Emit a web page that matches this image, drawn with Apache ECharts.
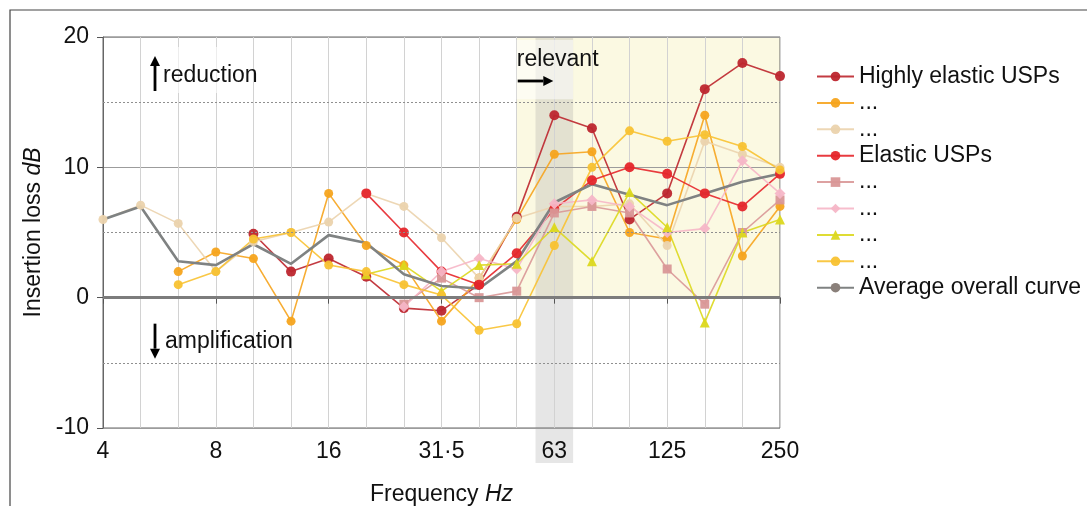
<!DOCTYPE html>
<html><head><meta charset="utf-8">
<script src="https://cdn.jsdelivr.net/npm/echarts@6/dist/echarts.min.js"></script>
<style>html,body{margin:0;padding:0;background:#fff}#c{width:1087px;height:506px}</style>
</head><body><div id="c"></div>
<script>
// ---- data ----
const bands = ['4','5','6.3','8','10','12.5','16','20','25','31.5','40','50','63','80','100','125','160','200','250'];
const tickLabels = ['4','8','16','31·5','63','125','250'];
const yTicks = [-10, 0, 10, 20];
const dashedLevels = [15, 5, -5];
const highlyElastic = [null,null,null,null,4.9,2.0,3.0,1.6,-0.8,-1.0,1.0,6.2,14.0,13.0,6.0,8.0,16.0,18.0,17.0];
const orangeSeries  = [null,null,2.0,3.5,3.0,-1.8,8.0,4.0,2.5,-1.8,1.5,6.0,11.0,11.2,5.0,4.5,14.0,3.2,7.0];
const beigeSeries   = [6.0,7.1,5.7,2.0,4.3,5.0,5.8,8.0,7.0,4.6,1.5,6.1,7.0,7.0,7.2,4.0,12.0,11.0,10.0];
const elastic       = [null,null,null,null,null,null,null,8.0,5.0,2.0,1.0,3.4,6.8,9.0,10.0,9.5,8.0,7.0,9.5];
const squareSeries  = [null,null,null,null,null,null,null,null,-0.5,1.5,0.0,0.5,6.5,7.0,6.5,2.2,-0.5,5.0,7.5];
const pinkSeries    = [null,null,null,null,null,null,null,null,-0.7,2.0,3.0,2.2,7.2,7.5,7.0,5.0,5.3,10.5,8.0];
const triSeries     = [null,null,null,null,null,null,null,1.8,2.5,0.5,2.5,2.6,5.4,2.8,8.1,5.4,-1.9,5.0,6.0];
const goldSeries    = [null,null,1.0,2.0,4.5,5.0,2.5,2.0,1.0,0.2,-2.5,-2.0,4.0,10.0,12.8,12.0,12.5,11.6,9.8];
const average       = [6.0,7.0,2.8,2.5,4.1,2.6,4.8,4.2,1.8,0.9,0.7,2.8,7.3,8.7,7.9,7.1,8.0,8.9,9.5];
const relevantFrom = 11, highlightBand = 12;

const FONT = '"Liberation Sans", Arial, sans-serif';
const FS = 23;
const chart = echarts.init(document.getElementById('c'));

function ser(name, data, color, symbol, size) {
  return {
    name, type: 'line', data, symbol, symbolSize: size || 9, showSymbol: true,
    lineStyle: { color, width: 1.6, opacity: 0.9 },
    itemStyle: { color, opacity: 0.95 },
    emphasis: { disabled: true }, animation: false
  };
}

const series = [
  ser('Highly elastic USPs', highlyElastic, '#bd262e', 'circle', 10),
  ser('...', orangeSeries, '#f6a41e', 'circle'),
  ser('... ', beigeSeries, '#ebd3ad', 'circle'),
  ser('Elastic USPs', elastic, '#e5262b', 'circle', 10),
  ser('...  ', squareSeries, '#d99797', 'rect'),
  ser('...   ', pinkSeries, '#f6b6c7', 'diamond', 11),
  ser('...    ', triSeries, '#dcd81e', 'triangle', 10),
  ser('...     ', goldSeries, '#f8c232', 'circle'),
  {
    name: 'Average overall curve', type: 'line', data: average, symbol: 'none',
    lineStyle: { color: '#7f8282', width: 2.6 }, itemStyle: { color: '#8a807a' },
    emphasis: { disabled: true }, animation: false, z: 3,
    markLine: {
      silent: true, symbol: 'none', label: { show: false }, animation: false,
      data: dashedLevels.map(v => ({ yAxis: v, lineStyle: { type: [2, 2], color: '#8f8f8f', width: 1 } }))
        .concat([{ yAxis: 0, lineStyle: { type: 'solid', color: '#7c7c7c', width: 3 } }])
    }
  }
];

const nameRich = { n: { fontSize: FS, color: '#111', fontFamily: FONT }, i: { fontSize: FS, color: '#111', fontStyle: 'italic', fontFamily: FONT } };

chart.setOption({
  animation: false,
  textStyle: { fontFamily: FONT },
  grid: { left: 103, right: 307, top: 37, bottom: 78, show: true, borderColor: '#666', borderWidth: 1, outerBoundsMode: 'none', containLabel: false },
  legend: {
    orient: 'vertical', left: 811, top: 60, itemWidth: 37, itemHeight: 12, itemGap: 3.4,
    textStyle: { fontSize: FS, color: '#111', fontFamily: FONT },
    selectedMode: false
  },
  xAxis: {
    type: 'category', data: bands, boundaryGap: false,
    axisLine: { lineStyle: { color: '#666', width: 1 } },
    axisTick: { show: true, interval: 2, length: 6, lineStyle: { color: '#555' } },
    axisLabel: { interval: 2, fontSize: FS, color: '#111', margin: 12,
      formatter: (v, i) => tickLabels[Math.round(i / 3)] },
    splitLine: { show: true, interval: 0, lineStyle: { color: '#d2d2d2', width: 1 } },
    name: '{n|Frequency }{i|Hz}', nameLocation: 'middle', nameGap: 55,
    nameTextStyle: { rich: nameRich }
  },
  yAxis: {
    type: 'value', min: yTicks[0], max: yTicks[yTicks.length - 1], interval: 10,
    axisLine: { show: true, lineStyle: { color: '#666', width: 1 } },
    axisTick: { show: true, length: 6, lineStyle: { color: '#555' } },
    axisLabel: { fontSize: FS, color: '#111', margin: 14 },
    splitLine: { show: true, lineStyle: { color: '#9c9c9c', width: 1 } },
    name: '{n|Insertion loss }{i|dB}', nameLocation: 'middle', nameGap: 58, nameRotate: 90,
    nameTextStyle: { rich: nameRich }
  },
  series
});

// ---- annotations positioned through the axes ----
const p = (i, v) => chart.convertToPixel({ gridIndex: 0 }, [i, v]);
const x0 = p(0, 0)[0], xEnd = p(bands.length - 1, 0)[0];
const half = (p(1, 0)[0] - p(0, 0)[0]) / 2;
const yTop = p(0, 20)[1], yZero = p(0, 0)[1], yBot = p(0, -10)[1], y15 = p(0, 15)[1];
const xRel = p(relevantFrom, 0)[0], xHl = p(highlightBand, 0)[0];

function arrow(x1, y1, x2, y2) {
  const ang = Math.atan2(y2 - y1, x2 - x1), L = 10, W = 5;
  const bx = x2 - L * Math.cos(ang), by = y2 - L * Math.sin(ang);
  const nx = -Math.sin(ang) * W, ny = Math.cos(ang) * W;
  return [
    { type: 'line', z: 10, shape: { x1, y1, x2: bx, y2: by }, style: { stroke: '#000', lineWidth: 2.8 } },
    { type: 'polygon', z: 10, shape: { points: [[x2, y2], [bx + nx, by + ny], [bx - nx, by - ny]] }, style: { fill: '#000' } }
  ];
}
const txt = (x, y, text) => ({ type: 'text', z: 10, x, y, style: { text, fontSize: FS, fill: '#111', fontFamily: FONT, textVerticalAlign: 'middle' } });

const xa = x0 + 52;
chart.setOption({
  graphic: [
    { type: 'rect', z: -2, shape: { x: xRel, y: yTop, width: xEnd - xRel, height: yZero - yTop }, style: { fill: '#fbf9e2' } },
    { type: 'rect', z: -1, shape: { x: xHl - half, y: yTop, width: 2 * half, height: yBot - yTop + 35 }, style: { fill: 'rgba(150,150,150,0.24)' } },
    { type: 'rect', z: 1, shape: { x: xRel, y: yTop + 3, width: xHl + half - xRel, height: y15 - yTop - 6 }, style: { fill: 'rgba(255,255,255,0.55)' } },
    { type: 'rect', z: 1, shape: { x: xa - 8, y: yTop + 10, width: 70, height: 46 }, style: { fill: 'rgba(255,255,255,0.6)' } },
    { type: 'rect', z: -3, shape: { x: 10, y: 10, width: 1200, height: 600 }, style: { fill: 'none', stroke: '#444', lineWidth: 1.2 } },
    ...arrow(xa, yTop + 54, xa, yTop + 19),
    txt(xa + 8, yTop + 39, 'reduction'),
    ...arrow(xa, yZero + 26, xa, yZero + 61),
    txt(xa + 10, yZero + 44, 'amplification'),
    txt(xRel, yTop + 23, 'relevant'),
    ...arrow(xRel + 1, yTop + 44, xHl - 1, yTop + 44)
  ]
});
</script></body></html>
